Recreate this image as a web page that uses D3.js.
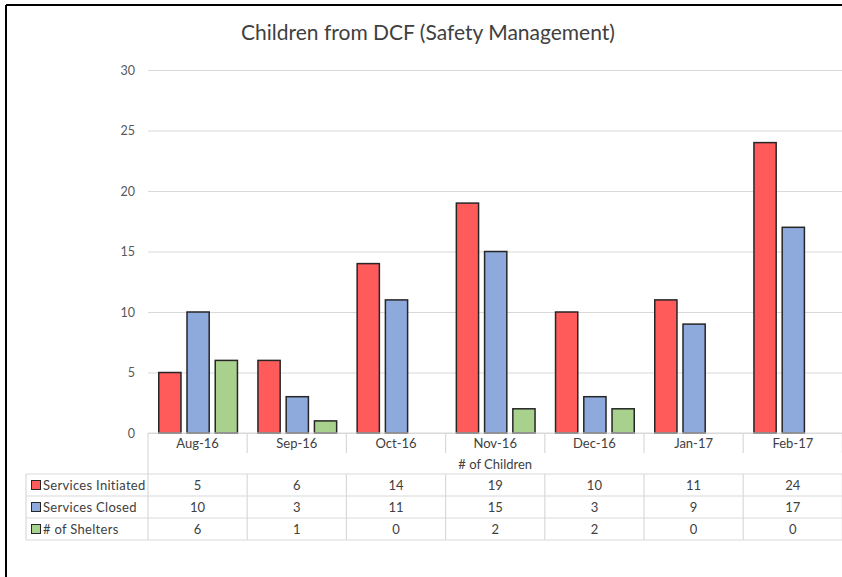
<!DOCTYPE html>
<html>
<head>
<meta charset="utf-8">
<script src="https://cdn.jsdelivr.net/npm/d3@7"></script>
<style>
  html, body { margin: 0; padding: 0; background: #fff; }
  svg { display: block; }
  text { font-family: Lato, "Open Sans", "Liberation Sans", sans-serif; }
</style>
</head>
<body>
<svg id="chart" width="842" height="577"></svg>
<script>
const categories = ["Aug-16", "Sep-16", "Oct-16", "Nov-16", "Dec-16", "Jan-17", "Feb-17"];
const seriesNames = ["Services Initiated", "Services Closed", "# of Shelters"];
const servicesInitiated = [5, 6, 14, 19, 10, 11, 24];
const servicesClosed = [10, 3, 11, 15, 3, 9, 17];
const shelters = [6, 1, 0, 2, 2, 0, 0];
const yTicks = [0, 5, 10, 15, 20, 25, 30];
const titleText = "Children from DCF (Safety Management)";
const axisTitle = "# of Children";
const seriesColors = ["#FF5B5B", "#8EA9DB", "#A9D18E"];

const seriesValues = [servicesInitiated, servicesClosed, shelters];

const svg = d3.select("#chart");
const W = 842, H = 577;

// frame
svg.append("rect").attr("x", 0).attr("y", 0).attr("width", W).attr("height", H).attr("fill", "#fff");
svg.append("line").attr("x1", 6).attr("x2", W).attr("y1", 5).attr("y2", 5).attr("stroke", "#000").attr("stroke-width", 2);
svg.append("line").attr("x1", 6).attr("x2", 6).attr("y1", 5).attr("y2", H).attr("stroke", "#000").attr("stroke-width", 2);

const plotLeft = 148, step = 99.2;
const plotRight = plotLeft + step * categories.length;
const x0 = d3.scaleBand().domain(categories).range([plotLeft, plotRight]).padding(0);
const x1 = d3.scaleBand().domain(seriesNames).range([10, step - 9]).paddingInner(0.16).paddingOuter(0);
const y = d3.scaleLinear().domain([0, 30]).range([433, 70]);

const gridColor = "#d9d9d9";

// title
svg.append("text").attr("x", 428).attr("y", 40).attr("text-anchor", "middle")
  .attr("font-size", 21).attr("fill", "#404040").text(titleText);

// gridlines + y axis via d3 axis
const yAxis = d3.axisLeft(y).tickValues(yTicks).tickSize(-(plotRight - plotLeft)).tickPadding(13);
const gy = svg.append("g").attr("transform", `translate(${plotLeft},0)`).call(yAxis);
gy.select(".domain").remove();
gy.selectAll(".tick line").attr("stroke", gridColor).attr("stroke-width", 1);
gy.selectAll(".tick text").attr("fill", "#595959").attr("font-size", 12.5)
  .attr("font-family", "Lato, 'Open Sans', sans-serif");

// bars
const data = categories.map((c, i) => ({ cat: c, vals: seriesNames.map((s, k) => ({ s, k, v: seriesValues[k][i] })) }));
const groups = svg.append("g").selectAll("g").data(data).join("g")
  .attr("transform", d => `translate(${x0(d.cat)},0)`);
groups.selectAll("rect").data(d => d.vals.filter(v => v.v > 0)).join("rect")
  .attr("x", d => x1(d.s) + 0.75)
  .attr("width", x1.bandwidth() - 1.5)
  .attr("y", d => y(d.v))
  .attr("height", d => y(0) - y(d.v))
  .attr("fill", d => seriesColors[d.k])
  .attr("stroke", "#262626").attr("stroke-width", 1.5);

// data table
const rowTop = 433, catRowBottom = 453, titleRowBottom = 474, rowH = 22;
const tableLeft = 26;
const g = svg.append("g").attr("stroke", gridColor).attr("stroke-width", 1.2);
g.append("line").attr("x1", plotLeft).attr("x2", W).attr("y1", rowTop).attr("y2", rowTop);
for (let r = 0; r <= seriesNames.length; r++) {
  const yy = titleRowBottom + r * rowH;
  g.append("line").attr("x1", tableLeft).attr("x2", W).attr("y1", yy).attr("y2", yy);
}
g.append("line").attr("x1", tableLeft).attr("x2", tableLeft).attr("y1", titleRowBottom).attr("y2", titleRowBottom + 3 * rowH);
g.append("line").attr("x1", plotLeft).attr("x2", plotLeft).attr("y1", rowTop).attr("y2", titleRowBottom + 3 * rowH);
categories.forEach((c, i) => {
  const xx = x0(c) + step;
  g.append("line").attr("x1", xx).attr("x2", xx).attr("y1", rowTop).attr("y2", catRowBottom);
  g.append("line").attr("x1", xx).attr("x2", xx).attr("y1", titleRowBottom).attr("y2", titleRowBottom + 3 * rowH);
});

// category labels
svg.append("g").selectAll("text").data(categories).join("text")
  .attr("x", d => x0(d) + step / 2).attr("y", 443).attr("dy", "0.35em")
  .attr("text-anchor", "middle").attr("font-size", 13).attr("fill", "#404040").text(d => d);

svg.append("text").attr("x", (plotLeft + plotRight) / 2).attr("y", 464).attr("dy", "0.35em")
  .attr("text-anchor", "middle").attr("font-size", 13).attr("fill", "#404040").text(axisTitle);

// table rows
seriesNames.forEach((s, k) => {
  const cy = titleRowBottom + k * rowH + rowH / 2;
  svg.append("rect").attr("x", 31.5).attr("y", cy - 4.5).attr("width", 9).attr("height", 9)
    .attr("fill", seriesColors[k]).attr("stroke", "#262626").attr("stroke-width", 1);
  svg.append("text").attr("x", 43).attr("y", cy).attr("dy", "0.35em").attr("font-size", 13)
    .attr("letter-spacing", 0.3).attr("fill", "#404040").text(s);
  svg.append("g").selectAll("text").data(categories).join("text")
    .attr("x", d => x0(d) + step / 2).attr("y", cy).attr("dy", "0.35em")
    .attr("text-anchor", "middle").attr("font-size", 13).attr("fill", "#404040")
    .text((d, i) => seriesValues[k][i]);
});
</script>
</body>
</html>
